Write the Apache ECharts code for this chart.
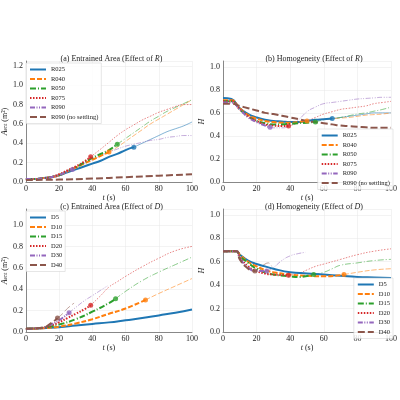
<!DOCTYPE html>
<html><head><meta charset="utf-8">
<script src="https://cdn.jsdelivr.net/npm/echarts@6/dist/echarts.min.js"></script>
<style>html,body{margin:0;background:#fff}#c{width:400px;height:400px}</style>
</head><body><div id="c"></div>
<script>
// panel a: entrained area, effect of R  ([t, A] pairs; thick part up to the marker, thin after)
var aR025 = [[0,.03],[5,.03],[10,.04],[15,.05],[20,.07],[25,.10],[30,.13],[35,.16],[40,.19],[45,.22],[50,.26],[55,.29],[60,.33],[65,.36]];
var aR025b = [[65,.36],[70,.40],[75,.44],[80,.48],[85,.52],[90,.55],[95,.58],[100,.62]];
var aR040 = [[0,.03],[5,.03],[10,.04],[15,.05],[20,.07],[25,.11],[30,.15],[35,.19],[40,.23],[45,.27],[50,.31]];
var aR040b = [[50,.31],[55,.36],[60,.42],[65,.48],[70,.54],[75,.60],[80,.65],[85,.70],[90,.75],[95,.80],[100,.85]];
var aR050 = [[0,.03],[5,.03],[10,.04],[15,.05],[20,.07],[25,.11],[30,.15],[35,.20],[40,.25],[45,.29],[50,.33],[55,.39]];
var aR050b = [[55,.39],[60,.45],[65,.51],[70,.57],[75,.63],[80,.68],[85,.73],[90,.77],[95,.81],[100,.85]];
var aR075 = [[0,.03],[5,.03],[10,.04],[15,.05],[20,.08],[25,.12],[30,.16],[35,.21],[39,.26]];
var aR075b = [[39,.26],[45,.34],[50,.41],[55,.48],[60,.54],[65,.59],[70,.64],[75,.68],[80,.72],[85,.75],[90,.78],[95,.80],[100,.80]];
var aR090 = [[0,.03],[5,.03],[10,.04],[15,.05],[20,.07],[25,.11],[28,.13]];
var aR090b = [[28,.13],[30,.15],[35,.19],[40,.23],[45,.27],[50,.31],[55,.34],[60,.37],[65,.39],[70,.41],[75,.43],[80,.44],[85,.46],[90,.47],[95,.48],[100,.48]];
var aNoSet = [[0,.02],[20,.025],[40,.035],[60,.05],[80,.065],[100,.08]];

// panel b: homogeneity, effect of R
var hR025 = [[0,.73],[5,.72],[10,.64],[15,.59],[20,.56],[25,.54],[30,.53],[35,.525],[40,.52],[45,.52],[50,.53],[55,.54],[60,.545],[65,.55]];
var hR025b = [[65,.55],[70,.56],[75,.57],[80,.58],[85,.59],[90,.60],[95,.60],[100,.60]];
var hR040 = [[0,.71],[5,.71],[10,.64],[15,.58],[20,.55],[25,.53],[30,.52],[35,.515],[40,.515],[45,.52],[50,.53]];
var hR040b = [[50,.53],[55,.54],[60,.545],[65,.55],[70,.555],[75,.56],[80,.57],[85,.58],[90,.585],[95,.59],[100,.60]];
var hR050 = [[0,.70],[5,.70],[10,.63],[15,.57],[20,.53],[25,.51],[30,.50],[35,.50],[40,.505],[45,.51],[50,.515],[55,.52]];
var hR050b = [[55,.52],[60,.54],[65,.55],[70,.56],[75,.575],[80,.59],[85,.60],[90,.615],[95,.63],[100,.65]];
var hR075 = [[0,.70],[5,.70],[10,.63],[15,.57],[20,.53],[25,.50],[30,.49],[35,.485],[39,.485]];
var hR075b = [[39,.485],[45,.51],[50,.53],[55,.56],[60,.59],[65,.61],[70,.63],[75,.64],[80,.65],[85,.66],[90,.68],[95,.69],[100,.70]];
var hR090 = [[0,.69],[5,.69],[10,.63],[15,.56],[20,.52],[25,.49],[28,.475]];
var hR090b = [[28,.475],[30,.47],[35,.47],[40,.49],[45,.54],[50,.61],[55,.65],[60,.68],[65,.69],[70,.70],[75,.71],[80,.72],[85,.725],[90,.73],[95,.735],[100,.735]];
var hNoSet = [[0,.68],[5,.68],[10,.66],[15,.64],[20,.62],[25,.60],[30,.59],[35,.575],[40,.56],[45,.545],[50,.53],[55,.52],[60,.51],[65,.50],[70,.49],[75,.485],[80,.48],[85,.475],[90,.47],[95,.47],[100,.47]];

// panel c: entrained area, effect of D
var aD5 = [[0,.03],[10,.035],[20,.045],[30,.06],[40,.075],[50,.09],[60,.11],[70,.13],[80,.155],[90,.18],[100,.21]];
var aD10 = [[0,.03],[10,.035],[20,.05],[30,.08],[40,.12],[50,.17],[60,.22],[72,.30]];
var aD10b = [[72,.30],[80,.36],[90,.43],[100,.50]];
var aD15 = [[0,.03],[10,.04],[20,.07],[30,.12],[40,.19],[50,.27],[54,.31]];
var aD15b = [[54,.31],[60,.38],[70,.48],[80,.56],[90,.63],[100,.70]];
var aD20 = [[0,.03],[10,.04],[15,.06],[20,.09],[25,.13],[30,.17],[35,.21],[39,.25]];
var aD20b = [[39,.25],[45,.34],[50,.42],[55,.47],[60,.52],[70,.61],[80,.69],[90,.76],[100,.80]];
var aD30 = [[0,.03],[10,.04],[15,.07],[20,.11],[26,.18]];
var aD30b = [[26,.18],[30,.23],[35,.29],[40,.34],[45,.39],[49,.43]];
var aD40 = [[0,.03],[10,.04],[15,.08],[19,.13]];
var aD40b = [[19,.13],[22,.17],[25,.22],[29,.27]];

// panel d: homogeneity, effect of D
var hD5 = [[0,.69],[5,.69],[8,.69],[10,.66],[15,.61],[20,.58],[25,.56],[30,.54],[40,.51],[50,.50],[60,.49],[70,.48],[80,.47],[90,.465],[100,.46]];
var hD10 = [[0,.69],[8,.69],[10,.66],[15,.60],[20,.56],[25,.53],[30,.51],[40,.49],[50,.48],[60,.475],[72,.49]];
var hD10b = [[72,.49],[80,.51],[90,.53],[100,.54]];
var hD15 = [[0,.69],[8,.69],[10,.65],[15,.59],[20,.54],[25,.51],[30,.49],[40,.475],[45,.47],[54,.49]];
var hD15b = [[54,.49],[60,.51],[65,.54],[70,.57],[80,.59],[90,.61],[100,.62]];
var hD20 = [[0,.69],[8,.69],[10,.64],[15,.56],[20,.52],[25,.50],[30,.49],[39,.485]];
var hD20b = [[39,.485],[45,.50],[50,.53],[55,.56],[60,.58],[70,.62],[80,.66],[90,.69],[100,.71]];
var hD30 = [[0,.69],[8,.69],[10,.63],[15,.55],[20,.52],[26,.52]];
var hD30b = [[26,.52],[30,.55],[35,.61],[40,.65],[45,.67],[49,.68]];
var hD40 = [[0,.69],[8,.69],[10,.62],[15,.54],[19,.52]];
var hD40b = [[19,.52],[22,.55],[25,.58],[27,.59],[29,.56]];

var namesR = ['R025','R040','R050','R075','R090','R090 (no settling)'];
var namesD = ['D5','D10','D15','D20','D30','D40'];

var colors = ['#1f77b4','#ff7f0e','#2ca02c','#d62728','#9467bd','#8c564b'];
var dashes = ['solid',[5,2],[6,2,1,2],[1.5,1.5],[5,1.5,1,1.5,1,1.5],[7,3]];
var font = 'Liberation Serif';

var series = [];
function add(k, idx, name, thick, thin) {
  series.push({ type:'line', name:name, xAxisIndex:k, yAxisIndex:k, data:thick,
    symbol:'none', smooth:true, color:colors[idx],
    lineStyle:{ width:2, type:dashes[idx] }, z:3 });
  if (thin) {
    series.push({ type:'line', name:name+' after', xAxisIndex:k, yAxisIndex:k, data:thin,
      symbol:'none', smooth:true, color:colors[idx],
      lineStyle:{ width:0.8, type:dashes[idx], opacity:0.7 }, z:2 });
    series.push({ type:'scatter', name:name+' mark', xAxisIndex:k, yAxisIndex:k,
      data:[thin[0]], symbolSize:5, color:colors[idx], z:4 });
  }
}
add(0,0,namesR[0],aR025,aR025b); add(0,1,namesR[1],aR040,aR040b); add(0,2,namesR[2],aR050,aR050b);
add(0,3,namesR[3],aR075,aR075b); add(0,4,namesR[4],aR090,aR090b); add(0,5,namesR[5],aNoSet,null);
add(1,0,namesR[0],hR025,hR025b); add(1,1,namesR[1],hR040,hR040b); add(1,2,namesR[2],hR050,hR050b);
add(1,3,namesR[3],hR075,hR075b); add(1,4,namesR[4],hR090,hR090b); add(1,5,namesR[5],hNoSet,null);
add(2,0,namesD[0],aD5,null); add(2,1,namesD[1],aD10,aD10b); add(2,2,namesD[2],aD15,aD15b);
add(2,3,namesD[3],aD20,aD20b); add(2,4,namesD[4],aD30,aD30b); add(2,5,namesD[5],aD40,aD40b);
add(3,0,namesD[0],hD5,null); add(3,1,namesD[1],hD10,hD10b); add(3,2,namesD[2],hD15,hD15b);
add(3,3,namesD[3],hD20,hD20b); add(3,4,namesD[4],hD30,hD30b); add(3,5,namesD[5],hD40,hD40b);

var grids = [
  { left:21, top:61, width:171, height:121 },
  { left:223, top:61, width:172, height:121 },
  { left:21, top:209, width:171, height:123 },
  { left:223, top:209, width:172, height:123 }
];
var ymax = [1.25, 1.05, 1.15, 1.05];
var titles = ['(a) Entrained Area (Effect of {i|R})','(b) Homogeneity (Effect of {i|R})',
              '(c) Entrained Area (Effect of {i|D})','(d) Homogeneity (Effect of {i|D})'];
var yNames = ['{i|A}{s|ent} (m²)','{i|H}','{i|A}{s|ent} (m²)','{i|H}'];

var axText = { fontFamily:font, fontSize:8, color:'#222' };
var rich = { i:{ fontStyle:'italic', fontFamily:font, fontSize:8, color:'#222' }, s:{ fontFamily:font, fontSize:5.5, verticalAlign:'bottom', color:'#222' } };

var option = {
  animation:false,
  textStyle:{ fontFamily:font },
  title: grids.map(function(g,k){ return { text:titles[k], left:g.left+g.width/2, textAlign:'center', top:g.top-11,
    textStyle:{ fontFamily:font, fontSize:8, fontWeight:'normal', color:'#222', rich:{ i:{ fontStyle:'italic', fontFamily:font, fontSize:8, color:'#222' } } } }; }),
  grid: grids,
  xAxis: grids.map(function(g,k){ return { type:'value', gridIndex:k, min:0, max:100, interval:20,
    name:'{i|t} (s)', nameLocation:'middle', nameGap:11, nameTextStyle:{ fontFamily:font, fontSize:8, color:'#222', rich:rich },
    axisLine:{ lineStyle:{ color:'#888' } }, axisTick:{ show:false }, axisLabel:Object.assign({ margin:3 }, axText),
    splitLine:{ lineStyle:{ color:'#e6e6e6', width:0.5 } } }; }),
  yAxis: grids.map(function(g,k){ return { type:'value', gridIndex:k, min:0, max:ymax[k], interval:0.2,
    name:yNames[k], nameLocation:'middle', nameGap:14, nameTextStyle:{ fontFamily:font, fontSize:8, color:'#222', rich:rich },
    axisLine:{ show:true, lineStyle:{ color:'#888' } }, axisTick:{ show:false },
    axisLabel:Object.assign({ margin:3, showMaxLabel:false, formatter:function(v){ return v.toFixed(1); } }, axText),
    splitLine:{ lineStyle:{ color:'#e6e6e6', width:0.5 } } }; }),
  legend: [
    { data:namesR, left:26, top:63 },
    { data:namesR, right:7, top:129 },
    { data:namesD, left:26, top:211 },
    { data:namesD, right:7, top:278 }
  ].map(function(l){ return Object.assign({ orient:'vertical', itemWidth:16, itemHeight:6, itemGap:2.5,
    itemStyle:{ opacity:0 },
    backgroundColor:'rgba(255,255,255,0.85)', borderColor:'#ccc', borderWidth:0.5, padding:3,
    textStyle:{ fontFamily:font, fontSize:6.5, color:'#222' } }, l); }),
  series: series
};
var myChart = echarts.init(document.getElementById('c'));
myChart.setOption(option);
</script>
</body></html>
